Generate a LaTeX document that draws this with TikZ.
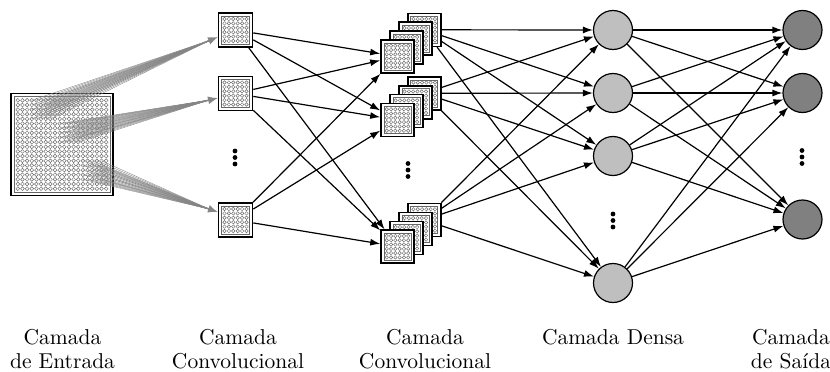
\documentclass[tikz,border=0pt]{standalone}
\usepackage{graphicx}
\usetikzlibrary{arrows.meta,calc}
\newcommand\fmap[7]{% name, x, y, size, n, spacing, radius
  \node[fmapbox, minimum size=#4pt] (#1) at (#2,#3) {};
  \node[fmapinner, minimum size=#4pt-6pt] at (#2,#3) {};
  \foreach \i in {1,...,#5}{\foreach \j in {1,...,#5}{
    \draw[cell] ({#2+(\i-(#5+1)/2)*#6},{#3+(\j-(#5+1)/2)*#6}) circle[radius=#7pt];
  }}
}
\newcommand\vdotsat[3]{% name, x, y
  \coordinate (#1) at (#2,#3);
  \fill ($(#1)+(0,-6.5)$) circle[radius=2.4pt];
  \fill (#1) circle[radius=2.4pt];
  \fill ($(#1)+(0,6.5)$) circle[radius=2.4pt];
}
\newcommand\lab[1]{\scalebox{2.15}{\def\arraystretch{0.95}\begin{tabular}[t]{@{}c@{}}#1\end{tabular}}}
\tikzset{
  fmapbox/.style={draw, line width=1.6pt, fill=white, inner sep=0pt},
  fmapinner/.style={draw=black!60, line width=0.45pt, inner sep=0pt},
  cell/.style={draw=black!58, line width=0.45pt},
  conn/.style={draw, line width=1.2pt, -{Latex[length=10pt,width=7pt]}},
  bundle/.style={draw=black!48, line width=0.4pt},
  bundletip/.style={draw=black!48, line width=1.5pt, -{Latex[length=10pt,width=8pt]}},
  dense/.style={circle, draw, line width=1.2pt, fill=black!25, minimum size=39pt, inner sep=0pt},
  outn/.style={circle, draw, line width=1.2pt, fill=black!50, minimum size=39pt, inner sep=0pt},
  lbl/.style={anchor=base, inner sep=0pt},
}
\begin{document}
\begin{tikzpicture}[x=1pt,y=-1pt]
\useasboundingbox (0,0) rectangle (830,372);
% input layer
\fmap{in}{62}{144.5}{102}{20}{4.65}{1.9}
% bundles from input patches
\coordinate (tip1) at (218,37);
\coordinate (pc1) at (41.1,109.6);
\coordinate (tip2) at (218,98);
\coordinate (pc2) at (69,132.9);
\coordinate (tip3) at (218,212);
\coordinate (pc3) at (92.2,170.1);
\coordinate (e1) at ($(tip1)!9pt!(pc1)$);
\coordinate (e2) at ($(tip2)!9pt!(pc2)$);
\coordinate (e3) at ($(tip3)!9pt!(pc3)$);
\foreach \c in {3,...,7}{\foreach \r in {0,...,4}{
  \draw[bundle] ({17.825+\c*4.65},{100.325+\r*4.65}) -- (e1);}}
\foreach \c in {9,...,13}{\foreach \r in {5,...,9}{
  \draw[bundle] ({17.825+\c*4.65},{100.325+\r*4.65}) -- (e2);}}
\foreach \c in {14,...,18}{\foreach \r in {13,...,17}{
  \draw[bundle] ({17.825+\c*4.65},{100.325+\r*4.65}) -- (e3);}}
\draw[bundletip] ($(tip1)!16pt!(pc1)$) -- (tip1);
\draw[bundletip] ($(tip2)!16pt!(pc2)$) -- (tip2);
\draw[bundletip] ($(tip3)!16pt!(pc3)$) -- (tip3);
% first convolutional layer
\fmap{c1}{235.5}{30}{34}{6}{4.4}{1.75}
\fmap{c2}{235.5}{93.5}{34}{6}{4.4}{1.75}
\fmap{c3}{235.5}{220}{34}{6}{4.4}{1.75}
\vdotsat{cdots}{235}{157.5}
% second convolutional layer (stacks of 4)
\foreach \k in {3,2,1,0}{
  \fmap{ga\k}{397.5+8.9*\k}{56.5-8.9*\k}{33}{6}{4.3}{1.7}
  \fmap{gb\k}{397.5+8.9*\k}{120-8.9*\k}{33}{6}{4.3}{1.7}
  \fmap{gc\k}{397.5+8.9*\k}{246.7-8.9*\k}{33}{6}{4.3}{1.7}
}
\vdotsat{gdots}{408}{170}
% dense layer
\node[dense] (d1) at (613,30) {};
\node[dense] (d2) at (613,93) {};
\node[dense] (d3) at (613,156) {};
\node[dense] (d4) at (613,283) {};
\vdotsat{ddots}{613}{220.5}
% output layer
\node[outn] (o1) at (802.5,30) {};
\node[outn] (o2) at (802.5,93) {};
\node[outn] (o3) at (802.5,219.5) {};
\vdotsat{odots}{802}{157}
% connections conv1 -> conv2
\foreach \s in {c1,c2,c3}{\foreach \t in {ga0,gb0,gc0}{\draw[conn] (\s) -- (\t);}}
% conv2 -> dense
\foreach \s in {ga3,gb3,gc3}{\foreach \t in {d1,d2,d3,d4}{\draw[conn] (\s) -- (\t);}}
% dense -> output
\foreach \s in {d1,d2,d3,d4}{\foreach \t in {o1,o2,o3}{\draw[conn] (\s) -- (\t);}}
% labels
\node[lbl] (l1) at (62.5,344) {\lab{Camada\\de Entrada}};
\node[lbl] (l2) at (238,344) {\lab{Camada\\Convolucional}};
\node[lbl] (l3) at (425,344) {\lab{Camada\\Convolucional}};
\node[lbl] (l4) at (613,344) {\lab{Camada Densa}};
\node[lbl] (l5) at (791,344) {\lab{Camada\\de Saída}};
\end{tikzpicture}
\end{document}
